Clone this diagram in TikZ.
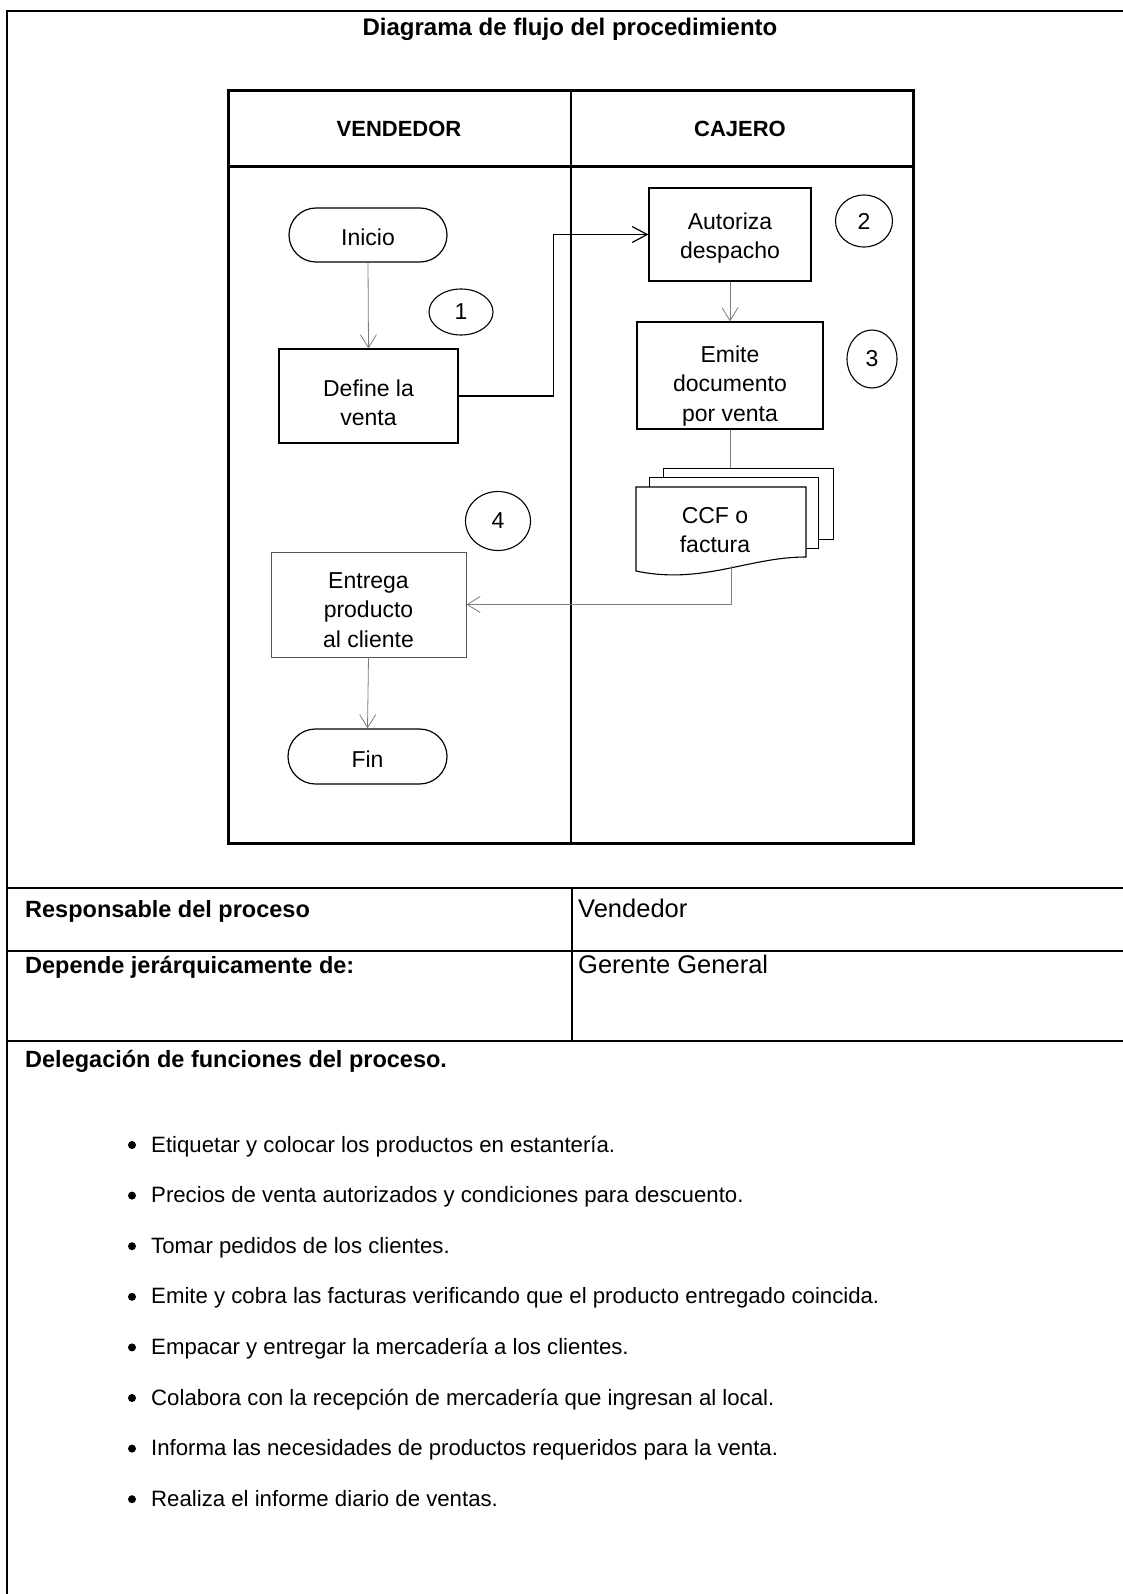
\documentclass[tikz,border=0pt]{standalone}
\usepackage{fontspec}
\setmainfont{Liberation Sans}
\usetikzlibrary{arrows.meta,shapes.geometric,shapes.misc}
\definecolor{linegray}{RGB}{125,125,125}
\definecolor{boxgray}{RGB}{85,85,85}
\newcommand\flowfont{\fontsize{23}{29.5}\selectfont}
\newcommand\cellfont{\fontsize{25.5}{30}\selectfont}
\newcommand\listfont{\fontsize{22.2}{27}\selectfont}
\newcommand\headfont{\bfseries\fontsize{23.5}{28}\selectfont}
\newcommand\titlefont{\bfseries\fontsize{24}{28}\selectfont}
\newcommand\lanefont{\bfseries\fontsize{22}{26}\selectfont}

\begin{document}
\begin{tikzpicture}[x=1pt,y=-1pt,
  rule/.style={line width=2pt},
  lanerule/.style={line width=3pt},
  box/.style={draw, line width=1.2pt, rectangle, inner sep=0pt},
  term/.style={draw, line width=1.2pt, rounded rectangle, inner sep=0pt, font=\flowfont},
  stepno/.style={draw, line width=1.1pt, ellipse, inner sep=0pt, font=\flowfont},
  flowtext/.style={align=center, font=\flowfont, inner sep=0pt},
  graylink/.style={draw=linegray, line width=0.8pt, -{Straight Barb[length=13pt,width=16pt]}},
  blacklink/.style={draw=black, line width=1.2pt, -{Straight Barb[length=15pt,width=16pt]}},
  plainlink/.style={draw=linegray, line width=0.8pt},
  sheet/.style={draw, line width=1.1pt, fill=white, inner sep=0pt, anchor=north west},
  celltext/.style={font=\cellfont, inner sep=0pt, anchor=base west},
  listtext/.style={font=\listfont, inner sep=0pt, anchor=base west},
  labeltext/.style={font=\headfont, inner sep=0pt, anchor=base west},
]
\useasboundingbox (0,0) rectangle (1123,1594);

% outer frame (open on the right and at the bottom)
\draw[rule] (1123,11) -- (7,11) -- (7,1594);

% title
\node[font=\titlefont, inner sep=0pt, anchor=base] (title) at (570,36) {Diagrama de flujo del procedimiento};

% swimlanes
\draw[lanerule] (228,91) rectangle (913,843);
\draw[lanerule] (228,167) -- (913,167);
\draw[line width=2.5pt] (571,91) -- (571,843);
\node[font=\lanefont, inner sep=0pt, anchor=base] (lane1) at (399,137) {VENDEDOR};
\node[font=\lanefont, inner sep=0pt, anchor=base] (lane2) at (740,137) {CAJERO};

% flow steps
\node[term, minimum width=158pt, minimum height=54pt] (inicio) at (368,235) {};
\node[flowtext] (inicio-t) at (368,237) {Inicio};

\node[box, minimum width=179pt, minimum height=94pt] (define) at (368.5,396) {};
\node[flowtext] (define-t) at (368.5,403) {Define la\\venta};
\node[stepno, minimum width=64pt, minimum height=46pt] (n1) at (461,312) {1};

\node[box, minimum width=162pt, minimum height=93pt] (autoriza) at (730,234.5) {};
\node[flowtext] (autoriza-t) at (730,238) {Autoriza\\despacho};
\node[stepno, minimum width=57pt, minimum height=52pt] (n2) at (864,221) {2};

\node[box, minimum width=186pt, minimum height=107pt] (emite) at (730,375.5) {};
\node[flowtext] (emite-t) at (730,386) {Emite\\documento\\por venta};
\node[stepno, minimum width=50pt, minimum height=58pt] (n3) at (872,359) {3};

% stacked documents
\node[sheet, minimum width=170pt, minimum height=71pt] (sheetC) at (663,468) {};
\node[sheet, minimum width=169pt, minimum height=71pt] (sheetB) at (649,477) {};
\draw[line width=1.1pt, fill=white] (636,487) -- (806,487) -- (806,557)
  .. controls (748,557) and (702,585) .. (636,571) -- cycle;
\node[flowtext] (doc) at (715,530) {CCF o\\factura};
\coordinate (docout) at (731,566);

\node[stepno, minimum width=65pt, minimum height=59pt] (n4) at (498,521) {4};
\node[box, draw=boxgray, line width=0.9pt, minimum width=195pt, minimum height=105pt] (entrega) at (368.5,604.5) {};
\node[flowtext] (entrega-t) at (368.5,610) {Entrega\\producto\\al cliente};

\node[term, minimum width=159pt, minimum height=55pt] (fin) at (367.5,756.5) {};
\node[flowtext] (fin-t) at (367.5,759) {Fin};

% connectors
\draw[graylink] (inicio.south) -- (define.north);
\draw[blacklink] (define.east) -- ++(95,0) |- (autoriza.west);
\draw[graylink] (autoriza.south) -- (emite.north);
\draw[plainlink] (emite.south) -- (emite.south |- sheetC.north);
\draw[graylink] (docout) |- (entrega.east);
\draw[graylink] (entrega.south) -- (fin.north);

% responsibility table
\draw[rule] (7,888) -- (1123,888);
\draw[rule] (7,951) -- (1123,951);
\draw[rule] (7,1041) -- (1123,1041);
\draw[rule] (572,888) -- (572,1041);
\node[labeltext] (resp) at (25,917) {Responsable del proceso};
\node[celltext] (resp-v) at (578,917) {Vendedor};
\node[labeltext] (dep) at (25,973) {Depende jerárquicamente de:};
\node[celltext] (dep-v) at (578,973) {Gerente General};
\node[labeltext] (deleg) at (25,1067) {Delegación de funciones del proceso.};

% delegated duties
\foreach \duty [count=\i] in {
  Etiquetar y colocar los productos en estantería.,
  Precios de venta autorizados y condiciones para descuento.,
  Tomar pedidos de los clientes.,
  Emite y cobra las facturas verificando que el producto entregado coincida.,
  Empacar y entregar la mercadería a los clientes.,
  Colabora con la recepción de mercadería que ingresan al local.,
  Informa las necesidades de productos requeridos para la venta.,
  Realiza el informe diario de ventas.}
{
  \node[circle, fill, inner sep=0pt, minimum size=8pt] (dot\i) at (132,{1145+50.6*(\i-1)}) {};
  \node[listtext] (duty\i) at (151,{1152+50.6*(\i-1)}) {\duty};
}
\end{tikzpicture}
\end{document}
